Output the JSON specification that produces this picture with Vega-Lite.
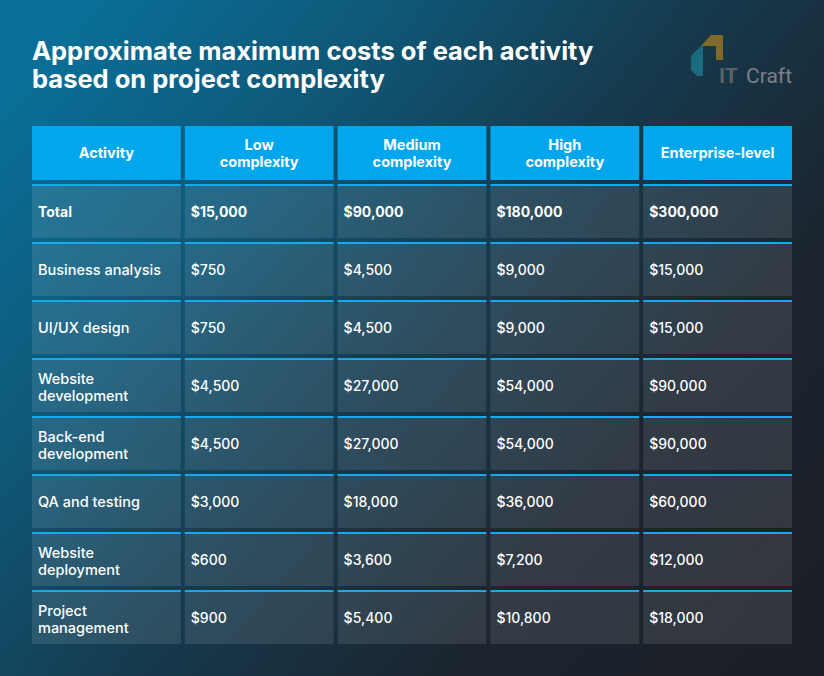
{
  "$schema": "https://vega.github.io/schema/vega-lite/v6.json",
  "width": 824,
  "height": 676,
  "autosize": {"type": "none"},
  "padding": 0,
  "background": "#1c2029",
  "config": {"view": {"stroke": null}, "font": "Inter"},
  "datasets": {
    "headers": [
      {"column": "Activity", "label": "Activity"},
      {"column": "Low complexity", "label": "Low\ncomplexity"},
      {"column": "Medium complexity", "label": "Medium\ncomplexity"},
      {"column": "High complexity", "label": "High\ncomplexity"},
      {"column": "Enterprise-level", "label": "Enterprise-level"}
    ],
    "activities": [
      {"activity": "Total", "label": "Total"},
      {"activity": "Business analysis", "label": "Business analysis"},
      {"activity": "UI/UX design", "label": "UI/UX design"},
      {"activity": "Website development", "label": "Website\ndevelopment"},
      {"activity": "Back-end development", "label": "Back-end\ndevelopment"},
      {"activity": "QA and testing", "label": "QA and testing"},
      {"activity": "Website deployment", "label": "Website\ndeployment"},
      {"activity": "Project management", "label": "Project\nmanagement"}
    ],
    "costs": [
      {"activity": "Total", "level": "Low complexity", "cost": 15000},
      {"activity": "Total", "level": "Medium complexity", "cost": 90000},
      {"activity": "Total", "level": "High complexity", "cost": 180000},
      {"activity": "Total", "level": "Enterprise-level", "cost": 300000},
      {"activity": "Business analysis", "level": "Low complexity", "cost": 750},
      {"activity": "Business analysis", "level": "Medium complexity", "cost": 4500},
      {"activity": "Business analysis", "level": "High complexity", "cost": 9000},
      {"activity": "Business analysis", "level": "Enterprise-level", "cost": 15000},
      {"activity": "UI/UX design", "level": "Low complexity", "cost": 750},
      {"activity": "UI/UX design", "level": "Medium complexity", "cost": 4500},
      {"activity": "UI/UX design", "level": "High complexity", "cost": 9000},
      {"activity": "UI/UX design", "level": "Enterprise-level", "cost": 15000},
      {"activity": "Website development", "level": "Low complexity", "cost": 4500},
      {"activity": "Website development", "level": "Medium complexity", "cost": 27000},
      {"activity": "Website development", "level": "High complexity", "cost": 54000},
      {"activity": "Website development", "level": "Enterprise-level", "cost": 90000},
      {"activity": "Back-end development", "level": "Low complexity", "cost": 4500},
      {"activity": "Back-end development", "level": "Medium complexity", "cost": 27000},
      {"activity": "Back-end development", "level": "High complexity", "cost": 54000},
      {"activity": "Back-end development", "level": "Enterprise-level", "cost": 90000},
      {"activity": "QA and testing", "level": "Low complexity", "cost": 3000},
      {"activity": "QA and testing", "level": "Medium complexity", "cost": 18000},
      {"activity": "QA and testing", "level": "High complexity", "cost": 36000},
      {"activity": "QA and testing", "level": "Enterprise-level", "cost": 60000},
      {"activity": "Website deployment", "level": "Low complexity", "cost": 600},
      {"activity": "Website deployment", "level": "Medium complexity", "cost": 3600},
      {"activity": "Website deployment", "level": "High complexity", "cost": 7200},
      {"activity": "Website deployment", "level": "Enterprise-level", "cost": 12000},
      {"activity": "Project management", "level": "Low complexity", "cost": 900},
      {"activity": "Project management", "level": "Medium complexity", "cost": 5400},
      {"activity": "Project management", "level": "High complexity", "cost": 10800},
      {"activity": "Project management", "level": "Enterprise-level", "cost": 18000}
    ]
  },
  "layer": [
    {
      "data": {"values": [{}]},
      "mark": {
        "type": "rect",
        "fill": {
          "gradient": "linear",
          "x1": 0, "y1": 0.15, "x2": 1, "y2": 0.85,
          "stops": [
            {"offset": 0, "color": "#0a6f98"},
            {"offset": 0.25, "color": "#0f5878"},
            {"offset": 0.5, "color": "#163a4e"},
            {"offset": 0.75, "color": "#1b2530"},
            {"offset": 1, "color": "#1c1f27"}
          ]
        }
      },
      "encoding": {"x": {"value": 0}, "x2": {"value": 824}, "y": {"value": 0}, "y2": {"value": 676}}
    },
    {
      "data": {"values": [{"t": "Approximate maximum costs of each activity\nbased on project complexity"}]},
      "mark": {"type": "text", "align": "left", "baseline": "alphabetic", "fontSize": 25.5, "fontWeight": "bold", "color": "#ffffff", "lineBreak": "\n", "lineHeight": 28},
      "encoding": {"x": {"value": 32}, "y": {"value": 60}, "text": {"field": "t"}}
    },
    {
      "data": {"values": [{}]},
      "mark": {"type": "point", "filled": true, "opacity": 1, "color": "#1b6b80", "strokeWidth": 0, "size": 1600,
        "shape": "M-0.8,0.025 L-0.3,-0.475 L-0.2,-0.475 L-0.2,1.025 L-0.5,1.025 L-0.8,0.725 Z"},
      "encoding": {"x": {"value": 707}, "y": {"value": 55.5}}
    },
    {
      "data": {"values": [{}]},
      "mark": {"type": "point", "filled": true, "opacity": 1, "color": "#7f6a2b", "strokeWidth": 0, "size": 1600,
        "shape": "M0.2,-1.025 L0.8,-1.025 L0.8,0.225 L0.45,0.225 L0.45,-0.475 L-0.3,-0.475 Z"},
      "encoding": {"x": {"value": 707}, "y": {"value": 55.5}}
    },
    {
      "data": {"values": [{"t": "IT"}]},
      "mark": {"type": "text", "align": "left", "baseline": "alphabetic", "font": "Roboto", "fontSize": 21, "fontWeight": "bold", "color": "#5c6168"},
      "encoding": {"x": {"value": 719}, "y": {"value": 83}, "text": {"field": "t"}}
    },
    {
      "data": {"values": [{"t": "Craft"}]},
      "mark": {"type": "text", "align": "right", "baseline": "alphabetic", "font": "Roboto", "fontSize": 21, "fontWeight": "normal", "color": "#7d8188"},
      "encoding": {"x": {"value": 792}, "y": {"value": 83}, "text": {"field": "t"}}
    },
    {
      "data": {"name": "headers"},
      "mark": {"type": "rect", "color": "#01a6ec"},
      "encoding": {
        "x": {"field": "column", "type": "nominal", "axis": null,
          "scale": {"domain": ["Activity", "Low complexity", "Medium complexity", "High complexity", "Enterprise-level"], "range": [32, 792], "paddingInner": 0.026, "paddingOuter": 0}},
        "y": {"datum": "Header", "type": "nominal", "axis": null,
          "scale": {"domain": ["Header", "Total", "Business analysis", "UI/UX design", "Website development", "Back-end development", "QA and testing", "Website deployment", "Project management"], "range": [126, 644], "paddingInner": 0.069, "paddingOuter": 0}}
      }
    },
    {
      "data": {"name": "headers"},
      "transform": [{"filter": "indexof(datum.label, '\\n') < 0"}],
      "mark": {"type": "text", "align": "center", "baseline": "middle", "dy": 1, "fontSize": 14.5, "fontWeight": "bold", "color": "#ffffff"},
      "encoding": {
        "x": {"field": "column", "type": "nominal", "axis": null},
        "y": {"datum": "Header", "type": "nominal", "axis": null},
        "text": {"field": "label"}
      }
    },
    {
      "data": {"name": "headers"},
      "transform": [{"filter": "indexof(datum.label, '\\n') >= 0"}],
      "mark": {"type": "text", "align": "center", "baseline": "middle", "dy": -7, "fontSize": 14.5, "fontWeight": "bold", "color": "#ffffff", "lineBreak": "\n", "lineHeight": 17},
      "encoding": {
        "x": {"field": "column", "type": "nominal", "axis": null},
        "y": {"datum": "Header", "type": "nominal", "axis": null},
        "text": {"field": "label"}
      }
    },
    {
      "data": {"name": "activities"},
      "mark": {"type": "rect", "fill": {
          "gradient": "linear", "x1": 0, "y1": 0, "x2": 0, "y2": 1,
          "stops": [
            {"offset": 0, "color": "#18a8ec"},
            {"offset": 0.036, "color": "#18a8ec"},
            {"offset": 0.04, "color": "rgba(255,255,255,0.1)"},
            {"offset": 1, "color": "rgba(255,255,255,0.1)"}
          ]}},
      "encoding": {
        "x": {"datum": "Activity", "type": "nominal", "axis": null},
        "y": {"field": "activity", "type": "nominal", "axis": null}
      }
    },
    {
      "data": {"name": "costs"},
      "mark": {"type": "rect", "fill": {
          "gradient": "linear", "x1": 0, "y1": 0, "x2": 0, "y2": 1,
          "stops": [
            {"offset": 0, "color": "#18a8ec"},
            {"offset": 0.036, "color": "#18a8ec"},
            {"offset": 0.04, "color": "rgba(255,255,255,0.1)"},
            {"offset": 1, "color": "rgba(255,255,255,0.1)"}
          ]}},
      "encoding": {
        "x": {"field": "level", "type": "nominal", "axis": null},
        "y": {"field": "activity", "type": "nominal", "axis": null}
      }
    },
    {
      "data": {"name": "activities"},
      "transform": [{"filter": "datum.activity === 'Total'"}],
      "mark": {"type": "text", "align": "left", "baseline": "middle", "dx": 6, "dy": 2, "fontSize": 14, "fontWeight": "bold", "color": "#ffffff"},
      "encoding": {
        "x": {"datum": "Activity", "type": "nominal", "bandPosition": 0, "axis": null},
        "y": {"field": "activity", "type": "nominal", "axis": null},
        "text": {"field": "label"}
      }
    },
    {
      "data": {"name": "activities"},
      "transform": [{"filter": "datum.activity !== 'Total' && indexof(datum.label, '\\n') < 0"}],
      "mark": {"type": "text", "align": "left", "baseline": "middle", "dx": 6, "dy": 2, "fontSize": 14.5, "fontWeight": 500, "color": "#ffffff"},
      "encoding": {
        "x": {"datum": "Activity", "type": "nominal", "bandPosition": 0, "axis": null},
        "y": {"field": "activity", "type": "nominal", "axis": null},
        "text": {"field": "label"}
      }
    },
    {
      "data": {"name": "activities"},
      "transform": [{"filter": "indexof(datum.label, '\\n') >= 0"}],
      "mark": {"type": "text", "align": "left", "baseline": "middle", "dx": 6, "dy": -5, "fontSize": 14.5, "fontWeight": 500, "color": "#ffffff", "lineBreak": "\n", "lineHeight": 16.5},
      "encoding": {
        "x": {"datum": "Activity", "type": "nominal", "bandPosition": 0, "axis": null},
        "y": {"field": "activity", "type": "nominal", "axis": null},
        "text": {"field": "label"}
      }
    },
    {
      "data": {"name": "costs"},
      "transform": [{"filter": "datum.activity === 'Total'"}],
      "mark": {"type": "text", "align": "left", "baseline": "middle", "dx": 6, "dy": 2, "fontSize": 14, "fontWeight": "bold", "color": "#ffffff"},
      "encoding": {
        "x": {"field": "level", "type": "nominal", "bandPosition": 0, "axis": null},
        "y": {"field": "activity", "type": "nominal", "axis": null},
        "text": {"field": "cost", "type": "quantitative", "format": "$,.0f"}
      }
    },
    {
      "data": {"name": "costs"},
      "transform": [{"filter": "datum.activity !== 'Total'"}],
      "mark": {"type": "text", "align": "left", "baseline": "middle", "dx": 6, "dy": 2, "fontSize": 14, "fontWeight": 500, "color": "#ffffff"},
      "encoding": {
        "x": {"field": "level", "type": "nominal", "bandPosition": 0, "axis": null},
        "y": {"field": "activity", "type": "nominal", "axis": null},
        "text": {"field": "cost", "type": "quantitative", "format": "$,.0f"}
      }
    }
  ]
}
